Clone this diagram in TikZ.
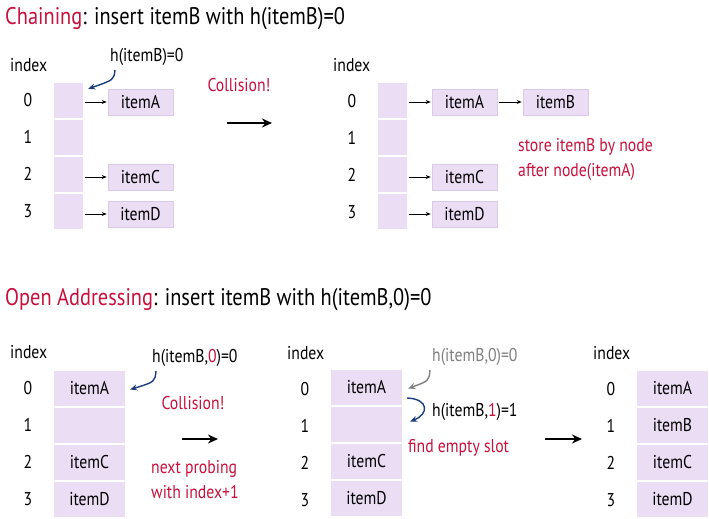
\documentclass[tikz,border=0pt]{standalone}
\usepackage{fontspec}
\setmainfont{PT Sans}[FakeStretch=0.85]
\usepackage{tikz}
\usetikzlibrary{arrows.meta}

\definecolor{slotfill}{HTML}{EBDDF4}
\definecolor{slotline}{HTML}{DCC9EA}
\definecolor{hashred}{HTML}{C8103C}
\definecolor{hashblue}{HTML}{1C3C80}

\begin{document}
\begin{tikzpicture}[x=1pt,y=-1pt,
    txt/.style={inner sep=0pt,font=\fontsize{18.5}{25}\selectfont},
    ttl/.style={inner sep=0pt,anchor=west,font=\fontsize{24}{28}\selectfont},
    slot/.style={fill=slotfill,minimum width=29pt,minimum height=35pt,inner sep=0pt},
    wide/.style={slot,minimum width=71pt,font=\fontsize{18.5}{25}\selectfont},
    item/.style={fill=slotfill,draw=slotline,line width=0.6pt,minimum width=65pt,minimum height=26pt,inner sep=0pt,font=\fontsize{18.5}{25}\selectfont},
    ptr/.style={-{Stealth[length=5pt,width=4pt]},line width=0.8pt},
    hint/.style={-{Stealth[length=7pt,width=6pt]},line width=1.4pt,hashblue},
    bigarrow/.style={-{Stealth[length=10pt,width=9pt]},line width=2.6pt}]
    \useasboundingbox (0,0) rectangle (709,519);

    % chaining
    \node[ttl] (t1) at (5,19) {\textcolor{hashred}{Chaining}: insert itemB with h(itemB)=0};

    \node[txt,anchor=west] (ix1) at (10,65) {index};
    \node[txt] (n10) at (28,100) {0};
    \node[txt] (n11) at (28,137) {1};
    \node[txt] (n12) at (28,174) {2};
    \node[txt] (n13) at (28,211) {3};
    \node[slot] (s10) at (68.5,100.5) {};
    \node[slot] (s11) at (68.5,137.5) {};
    \node[slot] (s12) at (68.5,174.5) {};
    \node[slot] (s13) at (68.5,211.5) {};
    \node[item] (a1) at (140.5,102) {itemA};
    \node[item] (c1) at (140.5,177) {itemC};
    \node[item] (d1) at (140.5,214) {itemD};

    \path [ptr] (s10.east |- a1) ++(2,0) edge ([xshift=-1pt]a1.west);
    \path [ptr] (s12.east |- c1) ++(2,0) edge ([xshift=-1pt]c1.west);
    \path [ptr] (s13.east |- d1) ++(2,0) edge ([xshift=-1pt]d1.west);

    \node[txt,anchor=west] (h1) at (110,57) {h(itemB)=0};
    \draw [hint] (h1.south west) ++(5,4) .. controls +(-1,10) .. ([xshift=5pt,yshift=-6pt]s10.north east);

    \node[txt,text=hashred] (col1) at (239,85) {Collision!};
    \coordinate (b1) at (227,123);
    \coordinate (e1) at (272,123);
    \draw [bigarrow] (b1) -- (e1);

    \node[txt,anchor=west] (ix2) at (333,65) {index};
    \node[txt] (n20) at (352,101) {0};
    \node[txt] (n21) at (352,138) {1};
    \node[txt] (n22) at (352,175) {2};
    \node[txt] (n23) at (352,212) {3};
    \node[slot] (s20) at (392.5,100.5) {};
    \node[slot] (s21) at (392.5,137.5) {};
    \node[slot] (s22) at (392.5,174.5) {};
    \node[slot] (s23) at (392.5,211.5) {};
    \node[item] (a2) at (464.5,102) {itemA};
    \node[item] (b2) at (555.5,102) {itemB};
    \node[item] (c2) at (464.5,177) {itemC};
    \node[item] (d2) at (464.5,214) {itemD};

    \path [ptr] (s20.east |- a2) ++(2,0) edge ([xshift=-1pt]a2.west);
    \path [ptr] (a2.east) ++(2,0) edge ([xshift=-1pt]b2.west);
    \path [ptr] (s22.east |- c2) ++(2,0) edge ([xshift=-1pt]c2.west);
    \path [ptr] (s23.east |- d2) ++(2,0) edge ([xshift=-1pt]d2.west);

    \node[txt,text=hashred,anchor=west,align=left] (note1) at (518,159.5) {store itemB by node\\after node(itemA)};

    % open addressing
    \node[ttl] (t2) at (5,300) {\textcolor{hashred}{Open Addressing}: insert itemB with h(itemB,0)=0};

    \node[txt,anchor=west] (ix3) at (10,352) {index};
    \node[txt] (n30) at (28,388) {0};
    \node[txt] (n31) at (28,425) {1};
    \node[txt] (n32) at (28,462) {2};
    \node[txt] (n33) at (28,499) {3};
    \node[wide] (s30) at (89.5,388.5) {itemA};
    \node[wide] (s31) at (89.5,425.5) {};
    \node[wide] (s32) at (89.5,462.5) {itemC};
    \node[wide] (s33) at (89.5,499.5) {itemD};

    \node[txt,anchor=west] (h3) at (152,358) {h(itemB,\textcolor{hashred}{0})=0};
    \draw [hint] (h3.south west) ++(4,4) .. controls +(-1,11) .. ([xshift=5pt,yshift=-1pt]s30.east);
    \node[txt,text=hashred] (col3) at (193,403) {Collision!};
    \coordinate (b3) at (182,439);
    \coordinate (e3) at (218,439);
    \draw [bigarrow] (b3) -- (e3);
    \node[txt,text=hashred,anchor=west,align=left] (note3) at (151,480) {next probing\\with index+1};

    \node[txt,anchor=west] (ix4) at (287,353) {index};
    \node[txt] (n40) at (305,389) {0};
    \node[txt] (n41) at (305,426) {1};
    \node[txt] (n42) at (305,463) {2};
    \node[txt] (n43) at (305,500) {3};
    \node[wide] (s40) at (366.5,387.5) {itemA};
    \node[wide] (s41) at (366.5,424.5) {};
    \node[wide] (s42) at (366.5,461.5) {itemC};
    \node[wide] (s43) at (366.5,498.5) {itemD};

    \node[txt,anchor=west,text=gray] (h4) at (432,357) {h(itemB,0)=0};
    \draw [hint,gray] (h4.south west) ++(-2,4) .. controls +(-1,11) .. ([xshift=6pt,yshift=-1pt]s40.east);
    \node[txt,anchor=west] (h5) at (432,412) {h(itemB,\textcolor{hashred}{1})=1};
    \draw [hint] ([xshift=5pt,yshift=-10.5pt]s40.east) .. controls (429,399) and (429,414) .. ([xshift=8pt,yshift=3pt]s41.east);
    \node[txt,text=hashred,anchor=west] (note4) at (408,448) {find empty slot};
    \coordinate (b4) at (545,439);
    \coordinate (e4) at (582,439);
    \draw [bigarrow] (b4) -- (e4);

    \node[txt,anchor=west] (ix5) at (593,353) {index};
    \node[txt] (n50) at (611,389) {0};
    \node[txt] (n51) at (611,426) {1};
    \node[txt] (n52) at (611,463) {2};
    \node[txt] (n53) at (611,500) {3};
    \node[wide] (s50) at (672.5,388.5) {itemA};
    \node[wide] (s51) at (672.5,425.5) {itemB};
    \node[wide] (s52) at (672.5,462.5) {itemC};
    \node[wide] (s53) at (672.5,499.5) {itemD};
\end{tikzpicture}
\end{document}
